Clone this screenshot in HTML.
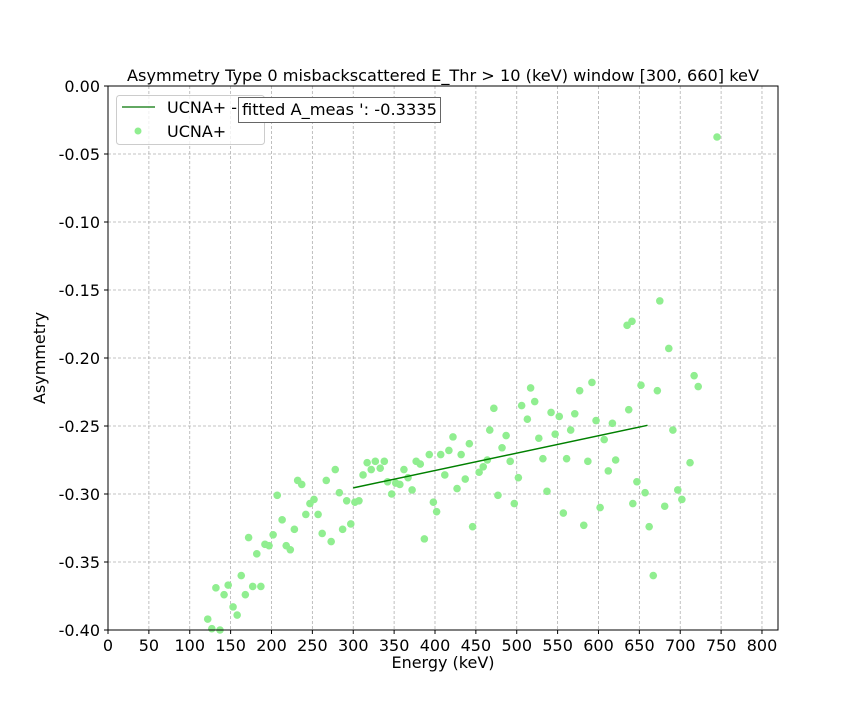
<!DOCTYPE html>
<html><head><meta charset="utf-8"><style>
html,body{margin:0;padding:0;background:#fff;}
svg{display:block;font-family:"DejaVu Sans","Liberation Sans",sans-serif;}
</style></head><body>
<svg id="chart" width="864" height="720" viewBox="0 0 864 720">
<rect x="0" y="0" width="864" height="720" fill="#fff"/>
<g id="grid"></g>
<g id="marks"></g>
<rect x="108" y="86" width="670" height="544" fill="none" stroke="#000" stroke-width="1"/>
<g id="ticks"></g>
<text x="443" y="81" text-anchor="middle" font-size="16" textLength="632" lengthAdjust="spacingAndGlyphs">Asymmetry Type 0 misbackscattered E_Thr &gt; 10 (keV) window [300, 660] keV</text>
<text x="443" y="668" text-anchor="middle" font-size="16">Energy (keV)</text>
<text x="45" y="358" text-anchor="middle" font-size="16" transform="rotate(-90 45 358)">Asymmetry</text>
<g>
<rect x="116.5" y="95.5" width="148" height="49" rx="3" fill="#fff" fill-opacity="0.8" stroke="#ccc"/>
<line x1="122" y1="107" x2="155" y2="107" stroke="#2e8b2e" stroke-width="1.5"/>
<text x="167" y="113" font-size="16">UCNA+ - fitted</text>
<circle cx="138" cy="131" r="3.5" fill="#90ee90"/>
<text x="167" y="137" font-size="16">UCNA+</text>
</g>
<g>
<rect x="238.5" y="97.5" width="202" height="25" fill="#fff" stroke="#666"/>
<text x="242" y="115" font-size="16" textLength="195" lengthAdjust="spacingAndGlyphs">fitted A_meas ': -0.3335</text>
</g>
</svg>
<script>
const energy=[122,127,137,132,142,147,153,158,163,168,177,187,172,182,192,197,202,207,213,218,223,228,232,237,242,247,252,257,262,267,273,278,283,287,292,297,302,307,312,317,322,327,333,338,342,347,352,357,362,367,372,377,382,387,393,398,402,407,412,417,422,427,432,437,442,446,454,459,464,467,472,477,482,487,492,497,502,506,513,517,522,527,532,537,542,547,552,557,561,566,571,577,582,587,592,597,602,607,612,617,621,637,642,647,652,657,662,667,672,681,691,697,702,712,717,722,635,641,675,686,745];
const asym=[-0.392,-0.399,-0.400,-0.369,-0.374,-0.367,-0.383,-0.389,-0.360,-0.374,-0.368,-0.368,-0.332,-0.344,-0.337,-0.338,-0.330,-0.301,-0.319,-0.338,-0.341,-0.326,-0.290,-0.293,-0.315,-0.307,-0.304,-0.315,-0.329,-0.290,-0.335,-0.282,-0.299,-0.326,-0.305,-0.322,-0.306,-0.305,-0.286,-0.277,-0.282,-0.276,-0.281,-0.276,-0.291,-0.300,-0.292,-0.293,-0.282,-0.288,-0.297,-0.276,-0.278,-0.333,-0.271,-0.306,-0.313,-0.271,-0.286,-0.268,-0.258,-0.296,-0.271,-0.289,-0.263,-0.324,-0.284,-0.280,-0.275,-0.253,-0.237,-0.301,-0.266,-0.257,-0.276,-0.307,-0.288,-0.235,-0.245,-0.222,-0.232,-0.259,-0.274,-0.298,-0.240,-0.256,-0.243,-0.314,-0.274,-0.253,-0.241,-0.224,-0.323,-0.276,-0.218,-0.246,-0.310,-0.260,-0.283,-0.248,-0.275,-0.238,-0.307,-0.291,-0.220,-0.299,-0.324,-0.360,-0.224,-0.309,-0.253,-0.297,-0.304,-0.277,-0.213,-0.221,-0.176,-0.173,-0.158,-0.193,-0.0375];
const fitE=[300,660];
const fitA=[-0.2955,-0.2495];
const xTicks=[0,50,100,150,200,250,300,350,400,450,500,550,600,650,700,750,800];
const yTicks=[0,-0.05,-0.10,-0.15,-0.20,-0.25,-0.30,-0.35,-0.40];

const NS='http://www.w3.org/2000/svg';
const L=108,R=778,T=86,B=630;
const xMin=0,xMax=819.6,yMin=-0.4,yMax=0;
function sx(v){return L+(v-xMin)/(xMax-xMin)*(R-L);}
function sy(v){return B-(v-yMin)/(yMax-yMin)*(B-T);}
function mk(tag,attrs,parent){const e=document.createElementNS(NS,tag);for(const k in attrs)e.setAttribute(k,attrs[k]);parent.appendChild(e);return e;}
const grid=document.getElementById('grid'),ticks=document.getElementById('ticks'),marks=document.getElementById('marks');
xTicks.forEach(t=>{
  const x=sx(t);
  const g=mk('line',{x1:x,y1:T,x2:x,y2:B,stroke:'#b0b0b0','stroke-dasharray':'3,2','stroke-width':0.8},grid);
  
  
  const tk=mk('line',{x1:x,y1:B,x2:x,y2:B+4,stroke:'#000'},ticks);
  
  
  const lb=mk('text',{x:x,y:B+21,'text-anchor':'middle','font-size':16},ticks);
  lb.textContent=String(t);
  
  
});
yTicks.forEach(t=>{
  const y=sy(t);
  const g=mk('line',{x1:L,y1:y,x2:R,y2:y,stroke:'#b0b0b0','stroke-dasharray':'3,2','stroke-width':0.8},grid);
  
  
  const tk=mk('line',{x1:L-4,y1:y,x2:L,y2:y,stroke:'#000'},ticks);
  
  
  const lb=mk('text',{x:L-8,y:y+6,'text-anchor':'end','font-size':16},ticks);
  lb.textContent=t.toFixed(2);
  
  
});
energy.forEach((e,i)=>{
  const c=mk('circle',{cx:sx(e),cy:sy(asym[i]),r:3.8,fill:'#90ee90'},marks);
  
  
});
const fl=mk('line',{x1:sx(fitE[0]),y1:sy(fitA[0]),x2:sx(fitE[1]),y2:sy(fitA[1]),stroke:'#008000','stroke-width':1.5},marks);


</script>
</body></html>
